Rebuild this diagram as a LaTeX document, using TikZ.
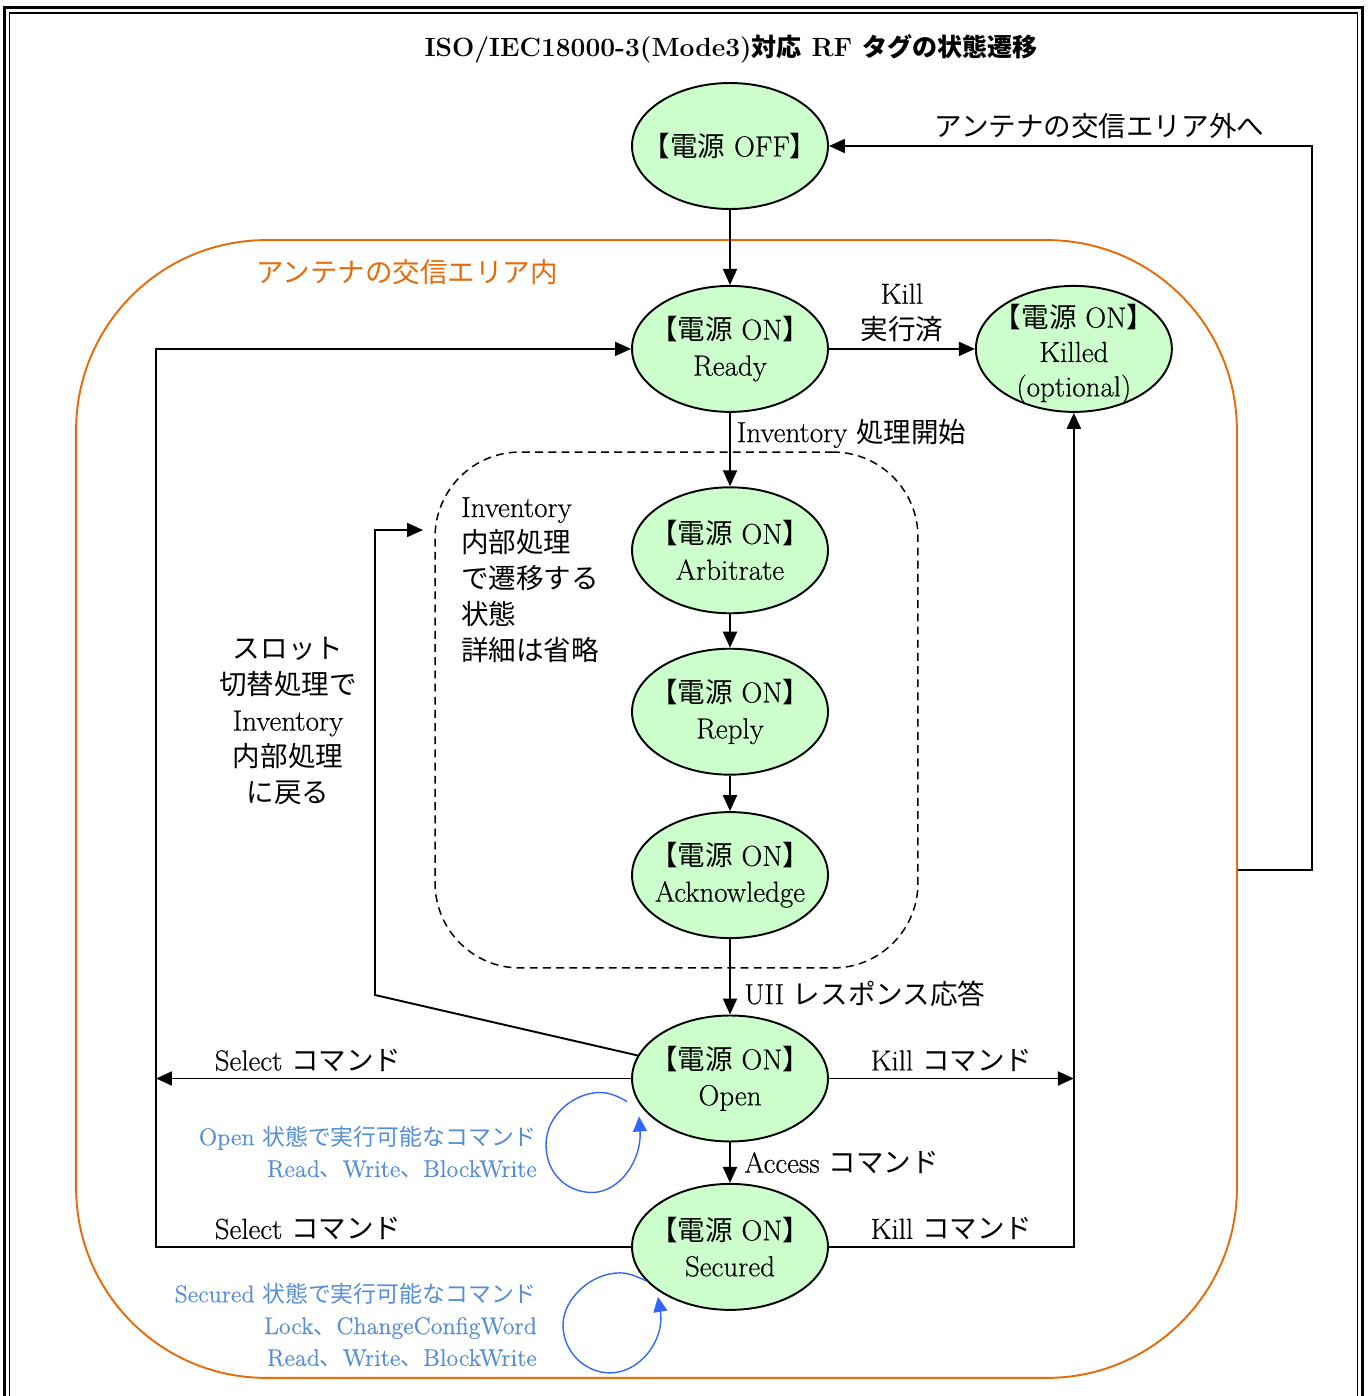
\documentclass[tikz,border=0pt]{standalone}
\usepackage{fontspec}
\setmainfont{Latin Modern Roman}[UprightFeatures={FakeBold=0.4}]
\newfontfamily\jpfont{Noto Sans CJK JP}[Scale=0.95]
\newcommand\ja[1]{{\jpfont #1}}
\newcommand\poweron{\ja{【電源} ON\ja{】}}
\usetikzlibrary{positioning,arrows.meta,shapes.geometric,calc}

\definecolor{stategreen}{RGB}{204,255,204}
\definecolor{areaorange}{RGB}{228,108,10}
\definecolor{loopblue}{RGB}{51,102,255}
\definecolor{noteblue}{RGB}{85,142,213}

\begin{document}
\begin{tikzpicture}[
    x=0.02cm, y=-0.02cm,
    font=\fontsize{16.5}{20.4}\selectfont,
    state/.style={
        ellipse, draw=black, line width=1.1pt, fill=stategreen,
        minimum width=3.92cm, minimum height=2.52cm,
        inner xsep=-0.6cm, inner ysep=-0.3cm, align=center},
    link/.style={-{Triangle[length=3.2mm,width=2.8mm]}, line width=1.1pt},
    area/.style={draw=areaorange, line width=1.1pt, rounded corners=3.8cm,
        minimum width=23.22cm, minimum height=22.76cm, inner sep=0pt},
    invzone/.style={draw, line width=0.85pt, dash pattern=on 4.5pt off 3pt,
        rounded corners=1.7cm, minimum width=9.66cm, minimum height=10.32cm, inner sep=0pt},
    selfloop/.style={-{Triangle[length=3mm,width=2.8mm]}, draw=loopblue, line width=0.8pt},
    note/.style={text=noteblue, font=\fontsize{13.7}{18.1}\selectfont, align=right},
]
\useasboundingbox (0,0) rectangle (1370,1396);

% ---- double frame ----
\draw[line width=1.7pt] (4.5,7.5) rectangle (1362.5,1430);
\draw[line width=1.1pt] (9.5,13) rectangle (1357.5,1430);

\node[font=\fontsize{15}{18}\selectfont\bfseries] (title) at (731,49)
    {ISO/IEC18000-3(Mode3)\ja{対応} RF \ja{タグの状態遷移}};

% ---- antenna field + inventory zone ----
\node[area] (area) at (656.5,809) {};
\node[text=areaorange, anchor=west] (arealabel) at (250,272) {\ja{アンテナの交信エリア内}};
\node[invzone] (inv) at (676.5,710) {};
\node[anchor=north west, align=left] (invnote) at (455,491)
    {Inventory\\ \ja{内部処理}\\ \ja{で遷移する}\\ \ja{状態}\\ \ja{詳細は省略}};

% ---- states ----
\node[state] (off) at (730,146) {\ja{【電源} OFF\ja{】}};
\node[state, below=1.50cm of off]     (ready)   {\poweron\\ Ready};
\node[state, right=2.92cm of ready, font=\fontsize{16.5}{19.6}\selectfont]
                                      (killed)  {\rule{0pt}{19pt}\poweron\\ Killed\\ (optional)};
\node[state, below=1.47cm of ready]   (arb)     {\poweron\\ Arbitrate};
\node[state, below=0.67cm of arb]     (reply)   {\poweron\\ Reply};
\node[state, below=0.71cm of reply]   (ack)     {\poweron\\ Acknowledge};
\node[state, below=1.51cm of ack]     (open)    {\poweron\\ Open};
\node[state, below=0.81cm of open]    (secured) {\poweron\\ Secured};

% ---- main chain ----
\draw[link] (off) -- (ready);
\draw[link] (ready) -- (killed) node[midway, above, align=center] {Kill\\ \ja{実行済}};
\draw[link] (ready) -- (arb) node[pos=0.28, right] {Inventory \ja{処理開始}};
\draw[link] (arb) -- (reply);
\draw[link] (reply) -- (ack);
\draw[link] (ack) -- (open) node[pos=0.72, right, xshift=1.5mm] {UII \ja{レスポンス応答}};
\draw[link] (open) -- (secured) node[midway, right, xshift=1.5mm] {Access \ja{コマンド}};

% ---- select / kill buses ----
\coordinate (lbus) at (156,1249);
\draw[link] (open.west) -- (open.west -| lbus) node[pos=0.68, above] {Select \ja{コマンド}};
\draw[link] (secured.west) -- (secured.west -| lbus) node[pos=0.68, above] {Select \ja{コマンド}}
    |- (ready.west);
\draw[link] (open.east) -- (open.east -| killed.south) node[midway, above] {Kill \ja{コマンド}};
\draw[link] (secured.east) -- (secured.east -| killed.south) node[midway, above] {Kill \ja{コマンド}}
    -- (killed.south);

% ---- slot switching back into inventory ----
\coordinate (slot) at (375,995);
\coordinate (slottip) at (423,530);
\draw[link] (open.166) -- (slot) |- (slottip);
\node[align=center] (slotnote) at (288,721)
    {\ja{スロット}\\ \ja{切替処理で}\\ Inventory\\ \ja{内部処理}\\ \ja{に戻る}};

% ---- leaving the antenna field ----
\coordinate (exit) at (1312,870);
\draw[link] (area.east |- exit) -- (exit) |- (off.east)
    node[pos=0.72, above] {\ja{アンテナの交信エリア外へ}};

% ---- commands that keep the state ----
\begin{scope}[shift={(open.center)}]
  \draw[selfloop] (-103,23) .. controls (-112,18) and (-120,14) .. (-130,14)
      .. controls (-155,14) and (-184,36) .. (-184,66)
      .. controls (-184,96) and (-162,114) .. (-138,114)
      .. controls (-110,114) and (-88,81) .. (-91,38);
\end{scope}
\begin{scope}[shift={(secured.center)}]
  \draw[selfloop] (-84,34) .. controls (-94,29) and (-102,26) .. (-110,26)
      .. controls (-140,26) and (-167,53) .. (-167,78)
      .. controls (-167,105) and (-145,126) .. (-120,126)
      .. controls (-90,126) and (-65,93) .. (-72,50);
\end{scope}
\node[note, anchor=east] (opennote) at (543,1152)
    {Open \ja{状態で実行可能なコマンド}\\ Read\ja{、}Write\ja{、}BlockWrite};
\node[note, anchor=east] (securednote) at (543,1325)
    {Secured \ja{状態で実行可能なコマンド}\\ Lock\ja{、}ChangeConfigWord\\ Read\ja{、}Write\ja{、}BlockWrite};

\end{tikzpicture}
\end{document}
